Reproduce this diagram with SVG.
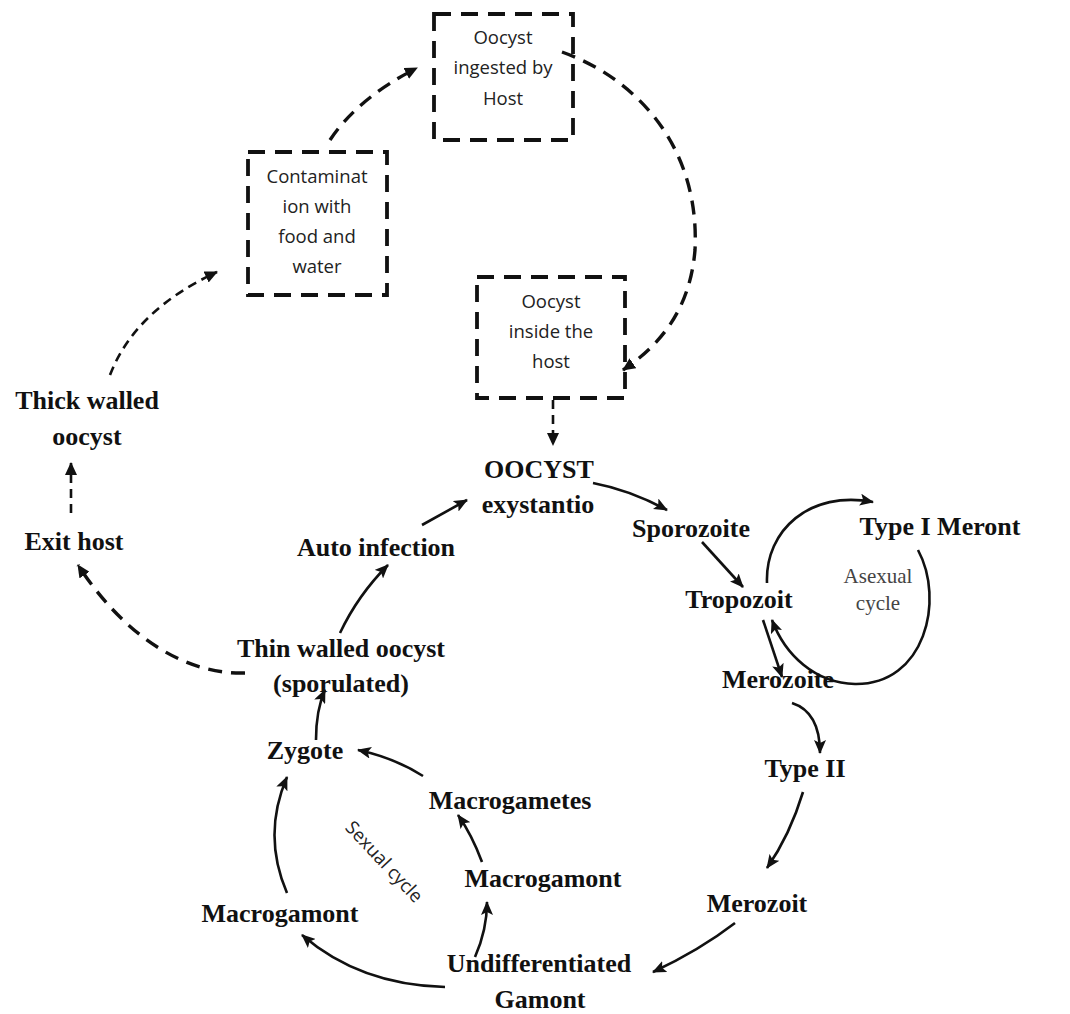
<svg xmlns="http://www.w3.org/2000/svg" width="1070" height="1014" viewBox="0 0 1070 1014">
<style>
.lbl{font-family:"Liberation Serif","Times New Roman",serif;font-weight:bold;font-size:26px;fill:#111;text-anchor:middle}
.box{fill:none;stroke:#111;stroke-width:3.8;stroke-dasharray:17 10}
.btxt{font-family:"Open Sans","Noto Sans",sans-serif;font-size:18.5px;fill:#222;text-anchor:middle}
.sol{fill:none;stroke:#111;stroke-width:2.6;marker-end:url(#ah)}
.dsh{fill:none;stroke:#111;stroke-width:3.4;stroke-dasharray:14 9;marker-end:url(#ahd)}
.dsm{fill:none;stroke:#111;stroke-width:2.6;stroke-dasharray:9 6;marker-end:url(#ahd)}
.note{font-family:"Liberation Serif","Times New Roman",serif;font-size:21px;fill:#444;text-anchor:middle}
</style>
<defs>
<marker id="ah" markerUnits="userSpaceOnUse" markerWidth="14" markerHeight="12" refX="13" refY="6" orient="auto">
<path d="M0,0 L14,6 L0,12 L3,6 z" fill="#111"/>
</marker>
<marker id="ahd" markerUnits="userSpaceOnUse" markerWidth="13" markerHeight="12" refX="12" refY="6" orient="auto">
<path d="M0,0 L13,6 L0,12 z" fill="#111"/>
</marker>
</defs>

<g id="connectors">
<path class="dsh" d="M330 140 Q 358 98 417 68"/>
<path class="dsh" d="M562 52 C 640 80, 700 150, 695 250 C 690 310, 660 345, 623 370"/>
<path class="dsm" d="M553 400 L 553 445"/>
<path class="dsm" d="M110 375 Q 135 310 217 272"/>
<path class="dsm" d="M71 513 L 71 463"/>
<path class="dsh" d="M245 673 C 180 675, 120 630, 78 565"/>
<path class="sol" d="M593 483 Q 630 490 667 510"/>
<path class="sol" d="M422 525 L 467 500"/>
<path class="sol" d="M340 633 Q 358 595 388 565"/>
<path class="sol" d="M702 542 L 743 587"/>
<path class="sol" d="M767 583 C 765 530, 810 490, 873 502"/>
<path class="sol" d="M918 550 C 945 600, 925 685, 855 684 C 815 683, 785 655, 772 620"/>
<path class="sol" d="M763 620 L 782 677"/>
<path class="sol" d="M792 703 Q 820 712 820 753"/>
<path class="sol" d="M803 792 Q 790 835 767 868"/>
<path class="sol" d="M735 923 Q 700 950 653 972"/>
<path class="sol" d="M475 957 Q 487 930 487 902"/>
<path class="sol" d="M482 862 Q 472 835 458 815"/>
<path class="sol" d="M423 776 Q 395 758 358 750"/>
<path class="sol" d="M316 740 Q 316 710 325 690"/>
<path class="sol" d="M445 987 Q 360 985 302 935"/>
<path class="sol" d="M287 893 Q 262 835 287 777"/>
</g>

<g id="ingested">
<rect class="box" x="434" y="14" width="139" height="126"/>
<text class="btxt" x="503" y="44">Oocyst</text>
<text class="btxt" x="503" y="74">ingested by</text>
<text class="btxt" x="503" y="105">Host</text>
</g>
<g id="contamination">
<rect class="box" x="248" y="152" width="139" height="143"/>
<text class="btxt" x="317" y="183">Contaminat</text>
<text class="btxt" x="317" y="213">ion with</text>
<text class="btxt" x="317" y="243">food and</text>
<text class="btxt" x="317" y="273">water</text>
</g>
<g id="inside">
<rect class="box" x="477" y="277" width="148" height="121"/>
<text class="btxt" x="551" y="308">Oocyst</text>
<text class="btxt" x="551" y="338">inside the</text>
<text class="btxt" x="551" y="368">host</text>
</g>

<g id="thick"><text class="lbl" x="87" y="409">Thick walled</text><text class="lbl" x="87" y="445">oocyst</text></g>
<g id="exit"><text class="lbl" x="74" y="550">Exit host</text></g>
<g id="auto"><text class="lbl" x="376" y="556">Auto infection</text></g>
<g id="thin"><text class="lbl" x="341" y="657">Thin walled oocyst</text><text class="lbl" x="341" y="692">(sporulated)</text></g>
<g id="oocyst"><text class="lbl" x="539" y="478">OOCYST</text><text class="lbl" x="538" y="513">exystantio</text></g>
<g id="sporozoite"><text class="lbl" x="691" y="537">Sporozoite</text></g>
<g id="typeI"><text class="lbl" x="940" y="535">Type I Meront</text></g>
<g id="tropozoit"><text class="lbl" x="739" y="608">Tropozoit</text></g>
<g id="asexual"><text class="note" x="878" y="583">Asexual</text><text class="note" x="878" y="610">cycle</text></g>
<g id="merozoite"><text class="lbl" x="778" y="688">Merozoite</text></g>
<g id="typeII"><text class="lbl" x="805" y="777">Type II</text></g>
<g id="merozoit"><text class="lbl" x="757" y="912">Merozoit</text></g>
<g id="undiff"><text class="lbl" x="539" y="972">Undifferentiated</text><text class="lbl" x="540" y="1008">Gamont</text></g>
<g id="zygote"><text class="lbl" x="305" y="759">Zygote</text></g>
<g id="macrogametes"><text class="lbl" x="510" y="809">Macrogametes</text></g>
<g id="macrogamontR"><text class="lbl" x="543" y="887">Macrogamont</text></g>
<g id="macrogamontL"><text class="lbl" x="280" y="922">Macrogamont</text></g>
<g id="sexual"><text font-family="'Open Sans','Noto Sans',sans-serif" font-size="18.5" fill="#222" text-anchor="middle" transform="translate(384,862) rotate(47)" y="6">Sexual cycle</text></g>
</svg>
